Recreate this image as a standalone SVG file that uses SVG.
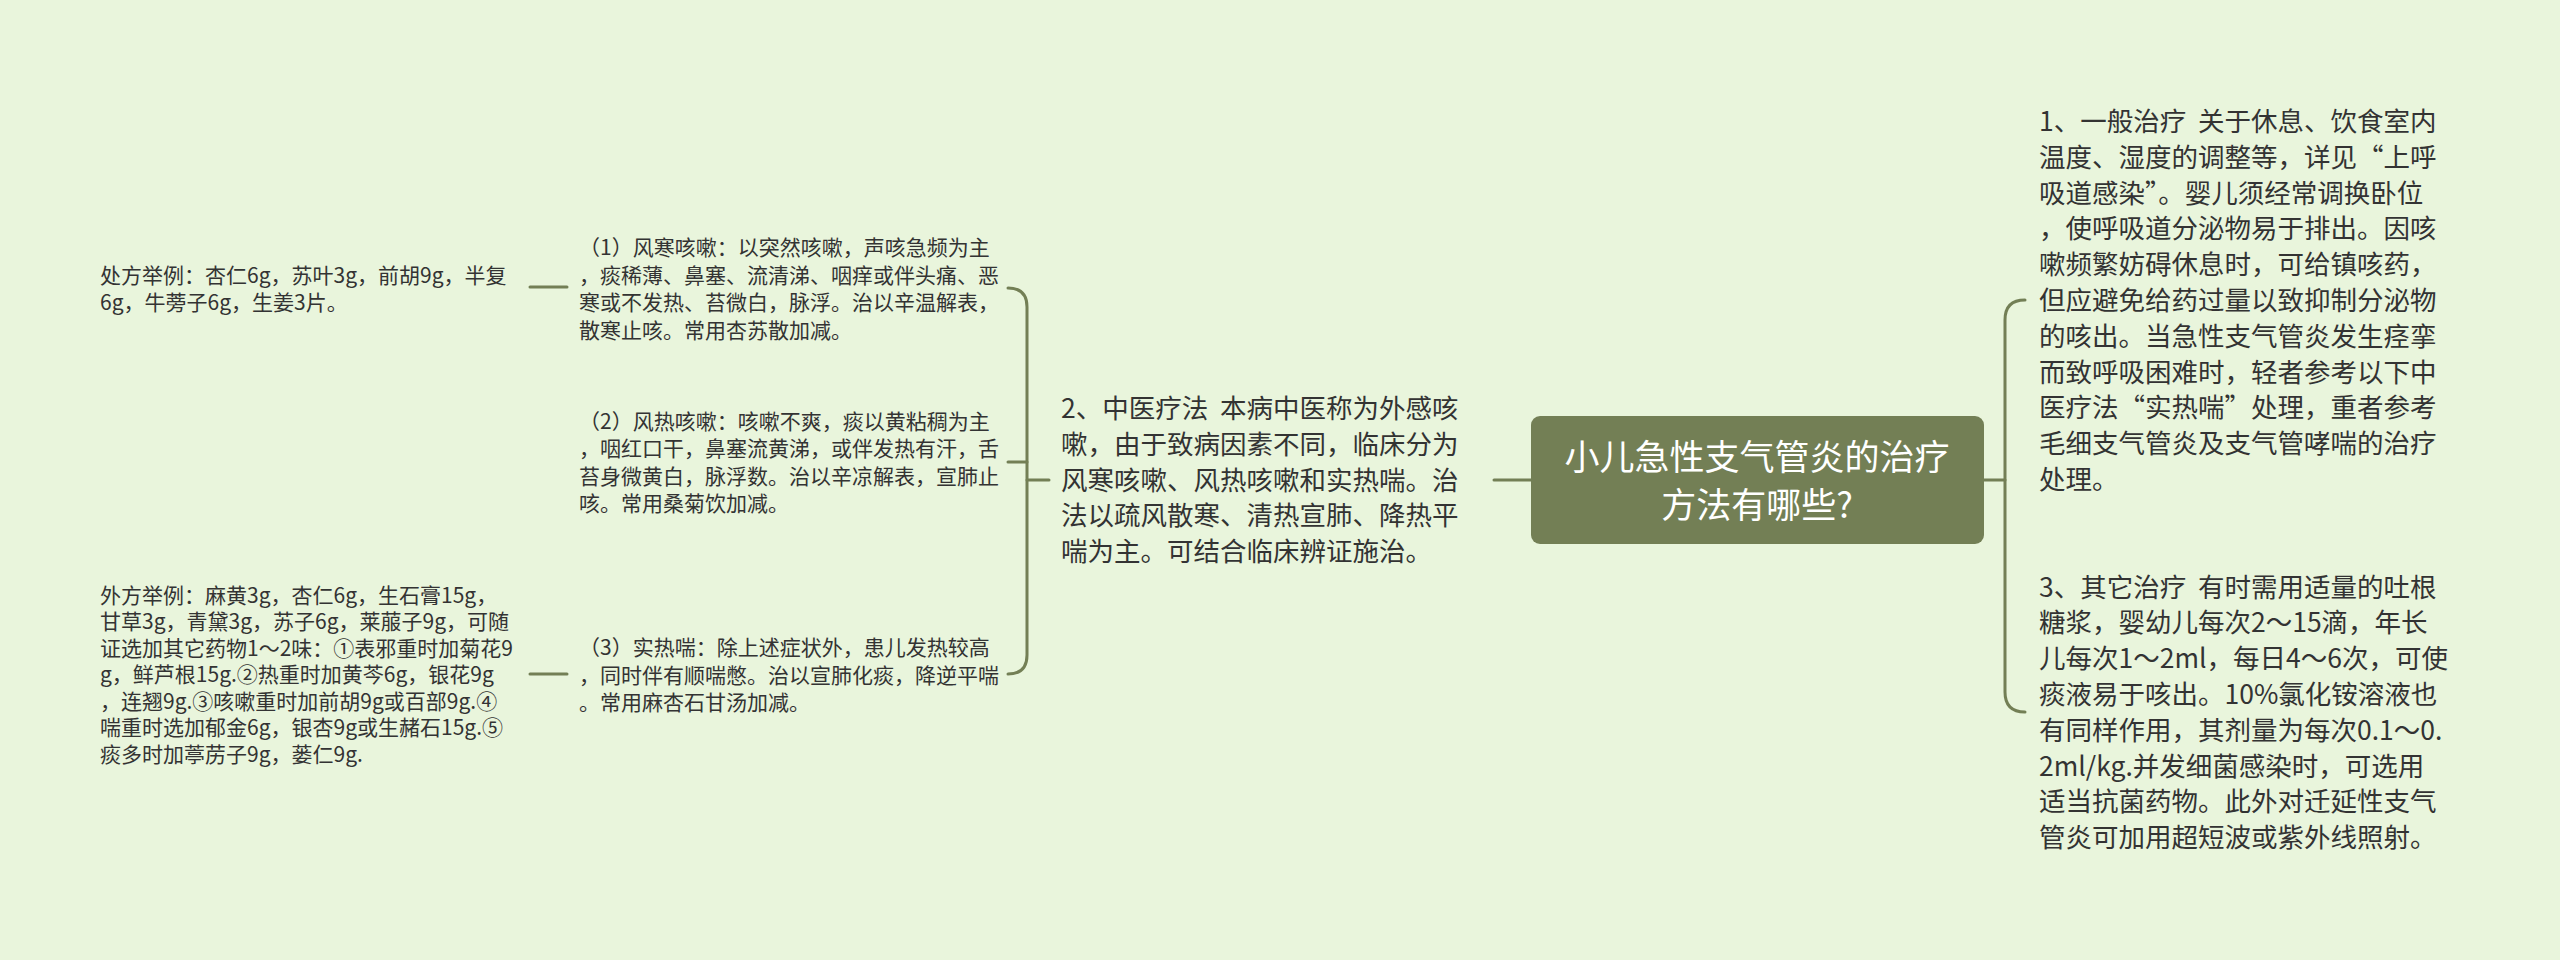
<svg xmlns="http://www.w3.org/2000/svg" width="2560" height="960" viewBox="0 0 2560 960">
<style>
.bg{fill:#e9f5dc}
.ln{fill:none;stroke:#737f55;stroke-width:3;stroke-linecap:round}
.t{font-family:"Noto Sans CJK SC","Microsoft YaHei",sans-serif;fill:#333333}
.big{font-size:26.5px}
.sm{font-size:21px}
.root{font-family:"Noto Sans CJK SC","Microsoft YaHei",sans-serif;font-size:35px;fill:#ffffff;text-anchor:middle}
</style>
<rect class="bg" x="0" y="0" width="2560" height="960"/>
<g id="connectors">
  <path class="ln" d="M1984,480 H2005"/>
  <path class="ln" d="M2025,300 Q2005,300 2005,320 V692 Q2005,712 2025,712"/>
  <path class="ln" d="M1494,480 H1531"/>
  <path class="ln" d="M1027,480 H1049"/>
  <path class="ln" d="M1008,288 Q1027,288 1027,307 V655 Q1027,674 1008,674"/>
  <path class="ln" d="M1008,462 H1027"/>
  <path class="ln" d="M530,287 H567"/>
  <path class="ln" d="M530,674 H567"/>
</g>
<g id="root">
  <rect x="1531" y="416" width="453" height="128" rx="9" fill="#737f55"/>
  <text class="root"><tspan x="1757" y="470">小儿急性支气管炎的治疗</tspan><tspan x="1757" y="518">方法有哪些?</tspan></text>
</g>
<g id="n1">
  <text class="t big" xml:space="preserve"><tspan x="2039" y="131">1、一般治疗  关于休息、饮食室内</tspan><tspan x="2039" y="166.8">温度、湿度的调整等，详见“上呼</tspan><tspan x="2039" y="202.6">吸道感染”。婴儿须经常调换卧位</tspan><tspan x="2039" y="238.4">，使呼吸道分泌物易于排出。因咳</tspan><tspan x="2039" y="274.2">嗽频繁妨碍休息时，可给镇咳药，</tspan><tspan x="2039" y="310">但应避免给药过量以致抑制分泌物</tspan><tspan x="2039" y="345.8">的咳出。当急性支气管炎发生痉挛</tspan><tspan x="2039" y="381.6">而致呼吸困难时，轻者参考以下中</tspan><tspan x="2039" y="417.4">医疗法“实热喘”处理，重者参考</tspan><tspan x="2039" y="453.2">毛细支气管炎及支气管哮喘的治疗</tspan><tspan x="2039" y="489">处理。</tspan></text>
</g>
<g id="n3">
  <text class="t big" xml:space="preserve"><tspan x="2039" y="596.5">3、其它治疗  有时需用适量的吐根</tspan><tspan x="2039" y="632.3">糖浆，婴幼儿每次2～15滴，年长</tspan><tspan x="2039" y="668.1">儿每次1～2ml，每日4～6次，可使</tspan><tspan x="2039" y="703.9">痰液易于咳出。10%氯化铵溶液也</tspan><tspan x="2039" y="739.7">有同样作用，其剂量为每次0.1～0.</tspan><tspan x="2039" y="775.5">2ml/kg.并发细菌感染时，可选用</tspan><tspan x="2039" y="811.3">适当抗菌药物。此外对迁延性支气</tspan><tspan x="2039" y="847.1">管炎可加用超短波或紫外线照射。</tspan></text>
</g>
<g id="n2">
  <text class="t big" xml:space="preserve"><tspan x="1061" y="418">2、中医疗法  本病中医称为外感咳</tspan><tspan x="1061" y="453.8">嗽，由于致病因素不同，临床分为</tspan><tspan x="1061" y="489.6">风寒咳嗽、风热咳嗽和实热喘。治</tspan><tspan x="1061" y="525.4">法以疏风散寒、清热宣肺、降热平</tspan><tspan x="1061" y="561.2">喘为主。可结合临床辨证施治。</tspan></text>
</g>
<g id="n2a">
  <text class="t sm"><tspan x="579" y="255">（1）风寒咳嗽：以突然咳嗽，声咳急频为主</tspan><tspan x="579" y="282.5">，痰稀薄、鼻塞、流清涕、咽痒或伴头痛、恶</tspan><tspan x="579" y="310">寒或不发热、苔微白，脉浮。治以辛温解表，</tspan><tspan x="579" y="337.5">散寒止咳。常用杏苏散加减。</tspan></text>
</g>
<g id="n2b">
  <text class="t sm"><tspan x="579" y="428.5">（2）风热咳嗽：咳嗽不爽，痰以黄粘稠为主</tspan><tspan x="579" y="456">，咽红口干，鼻塞流黄涕，或伴发热有汗，舌</tspan><tspan x="579" y="483.5">苔身微黄白，脉浮数。治以辛凉解表，宣肺止</tspan><tspan x="579" y="511">咳。常用桑菊饮加减。</tspan></text>
</g>
<g id="n2c">
  <text class="t sm"><tspan x="579" y="655">（3）实热喘：除上述症状外，患儿发热较高</tspan><tspan x="579" y="682.5">，同时伴有顺喘憋。治以宣肺化痰，降逆平喘</tspan><tspan x="579" y="710">。常用麻杏石甘汤加减。</tspan></text>
</g>
<g id="leaf1">
  <text class="t sm"><tspan x="100" y="283">处方举例：杏仁6g，苏叶3g，前胡9g，半复</tspan><tspan x="100" y="309.5">6g，牛蒡子6g，生姜3片。</tspan></text>
</g>
<g id="leaf3">
  <text class="t sm"><tspan x="100" y="602.5">外方举例：麻黄3g，杏仁6g，生石膏15g，</tspan><tspan x="100" y="629">甘草3g，青黛3g，苏子6g，莱菔子9g，可随</tspan><tspan x="100" y="655.5">证选加其它药物1～2味：①表邪重时加菊花9</tspan><tspan x="100" y="682">g，鲜芦根15g.②热重时加黄芩6g，银花9g</tspan><tspan x="100" y="708.5">，连翘9g.③咳嗽重时加前胡9g或百部9g.④</tspan><tspan x="100" y="735">喘重时选加郁金6g，银杏9g或生赭石15g.⑤</tspan><tspan x="100" y="761.5">痰多时加葶苈子9g，蒌仁9g.</tspan></text>
</g>
</svg>
